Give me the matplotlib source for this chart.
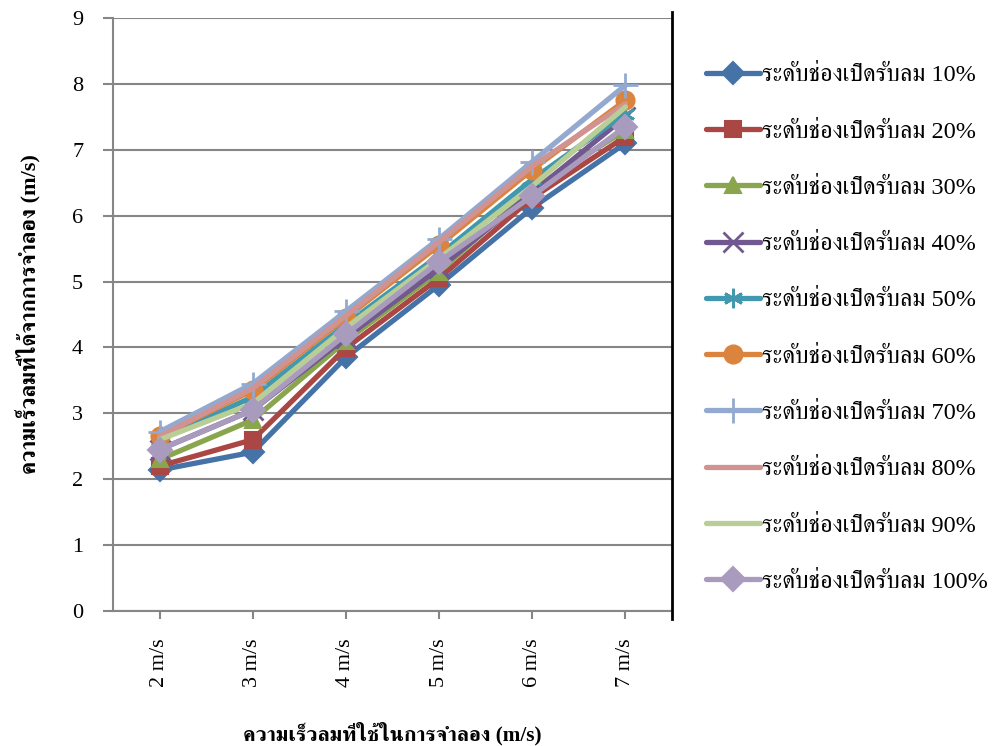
import matplotlib
matplotlib.use("Agg")
import matplotlib.pyplot as plt
from matplotlib import font_manager, ft2font
from matplotlib.lines import Line2D
import numpy as np

categories = ["2 m/s", "3 m/s", "4 m/s", "5 m/s", "6 m/s", "7 m/s"]
s10 = [2.14, 2.41, 3.85, 4.95, 6.12, 7.10]
s20 = [2.20, 2.60, 3.99, 5.05, 6.27, 7.20]
s30 = [2.30, 2.90, 4.10, 5.15, 6.40, 7.30]
s40 = [2.45, 3.05, 4.15, 5.20, 6.35, 7.50]
s50 = [2.60, 3.25, 4.35, 5.40, 6.55, 7.55]
s60 = [2.65, 3.35, 4.45, 5.55, 6.70, 7.75]
s70 = [2.72, 3.45, 4.55, 5.65, 6.82, 7.98]
s80 = [2.65, 3.38, 4.48, 5.60, 6.75, 7.70]
s90 = [2.60, 3.15, 4.30, 5.35, 6.45, 7.65]
s100 = [2.45, 3.05, 4.20, 5.30, 6.30, 7.35]
labels = ["ระดับช่องเปิดรับลม %d%%" % p for p in range(10, 101, 10)]
series = [s10, s20, s30, s40, s50, s60, s70, s80, s90, s100]

colors = ["#4572A7", "#AA4643", "#89A54E", "#71588F", "#4198AF",
          "#DB843D", "#93A9CF", "#D19392", "#B9CD96", "#A99BBD"]
markers = ["D", "s", "^", "x", (6, 2, 0), "o", "+", None, None, "D"]
msizes = [11, 12, 12, 14, 14, 13, 18, 0, 0, 12]

# find fonts with Thai glyphs
thai = []
for f in font_manager.fontManager.ttflist:
    try:
        cm = ft2font.FT2Font(f.fname).get_charmap()
        if 0x0E23 in cm and f.name not in thai:
            thai.append(f.name)
    except Exception:
        pass
serif_thai = [n for n in thai if "Serif" in n] + [n for n in thai if "Serif" not in n]
fam = ["Liberation Serif"] + serif_thai + ["DejaVu Sans"]
plt.rcParams["font.family"] = fam

fig = plt.figure(figsize=(9.95, 7.46), dpi=100)
ax = fig.add_axes([113/995, 1-611/746, (672-113)/995, (611-18)/746])

x = np.arange(len(categories)) + 0.5
for ys, c, m, ms, lab in zip(series, colors, markers, msizes, labels):
    kw = {}
    if m is not None:
        kw = dict(marker=m, markersize=ms, markerfacecolor=c, markeredgecolor=c,
                  markeredgewidth=1.5 if m not in ("x", "+") and not isinstance(m, tuple) else 2)
    ax.plot(x, ys, color=c, lw=3.8, label=lab, solid_capstyle="round", **kw)

ax.set_xlim(0, 6)
ax.set_ylim(0, 9)
ax.set_yticks(range(0, 10))
ax.set_xticks(x)
ax.set_xticklabels(categories, rotation=90, fontsize=16)
ax.tick_params(axis="y", labelsize=16, length=7.5, color="#868686", width=1.5, pad=14)
ax.tick_params(axis="x", length=6, color="#868686", width=1.5, pad=14)
ax.grid(axis="y", color="#868686", lw=1.5)
ax.set_axisbelow(True)
for s in ["left", "bottom"]:
    ax.spines[s].set_color("#868686")
    ax.spines[s].set_linewidth(1.5)
ax.spines["top"].set_visible(False)
ax.spines["right"].set_visible(False)
fig.add_artist(Line2D([672/995, 672/995], [1-12/746, 1-619/746], color="black", lw=2,
                      transform=fig.transFigure))

ax.set_ylabel("ความเร็วลมที่ได้จากการจำลอง (m/s)", fontsize=16, fontweight="bold", labelpad=22)
ax.set_xlabel("ความเร็วลมที่ใช้ในการจำลอง (m/s)", fontsize=15.3, fontweight="bold", labelpad=25)

leg = ax.legend(loc="upper left", bbox_to_anchor=(1.061, 0.922), frameon=False,
                fontsize=17.5, labelspacing=1.41, handlelength=2.2, handletextpad=0.12,
                borderaxespad=0, borderpad=0)

fig.savefig("out.png", dpi=100)
